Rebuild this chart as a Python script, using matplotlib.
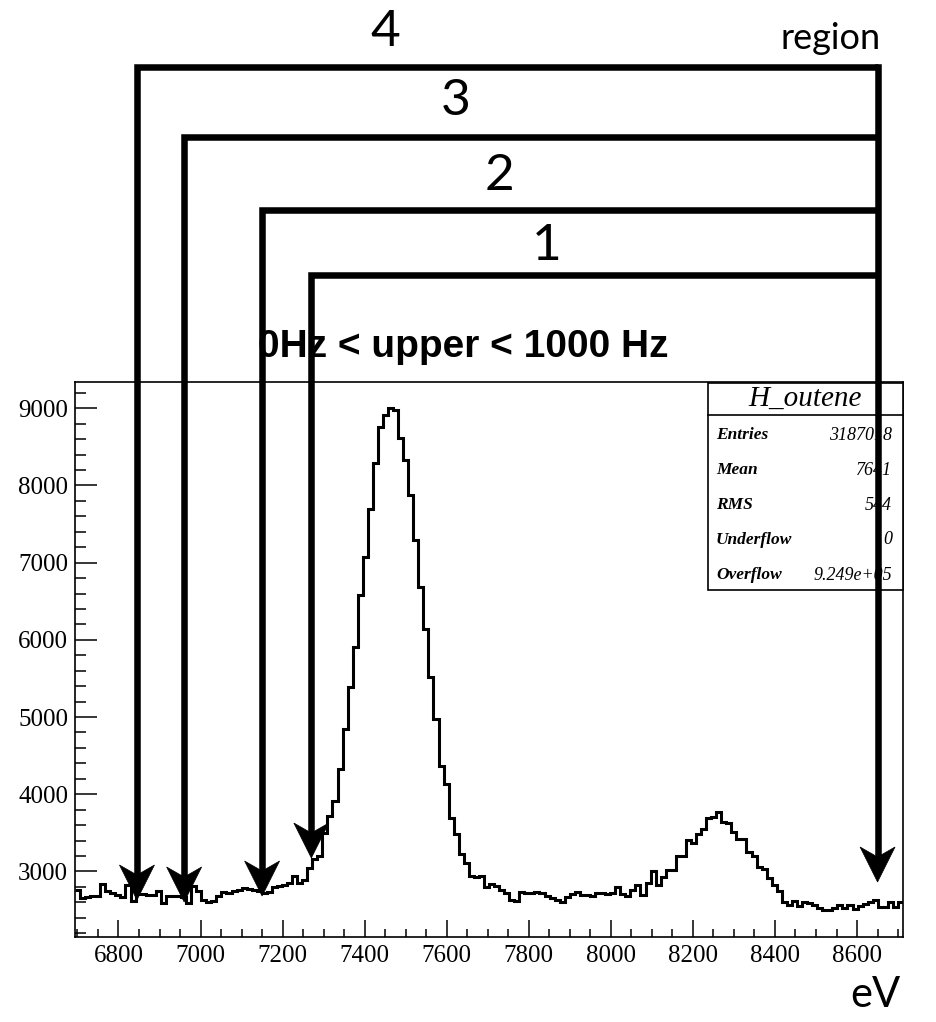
import numpy as np
import matplotlib
matplotlib.use("Agg")
import matplotlib.pyplot as plt
from matplotlib.lines import Line2D
from matplotlib.patches import Polygon, Rectangle
from matplotlib.ticker import MultipleLocator
from matplotlib.transforms import Bbox, TransformedBbox

W, H = 937, 1022

# histogram H_outene: energy range and bin contents
E_MIN, E_MAX = 6694, 8712
counts = [
    2764, 2656, 2665, 2678, 2678, 2838, 2743, 2721, 2700, 2665,
    2820, 2613, 2708, 2708, 2700, 2700, 2751, 2591, 2678, 2678,
    2678, 2665, 2591, 2808, 2743, 2634, 2604, 2621, 2678, 2734,
    2721, 2751, 2764, 2786, 2777, 2764, 2743, 2721, 2734, 2795,
    2808, 2829, 2847, 2938, 2851, 2894, 3045, 3158, 3194, 3500,
    3717, 3912, 4327, 4847, 5384, 5903, 6575, 7073, 7701, 8286,
    8761, 8913, 9000, 8980, 8610, 8328, 7874, 7289, 6683, 6142,
    5513, 4973, 4366, 4129, 3695, 3479, 3219, 3110, 2937, 2930,
    2938, 2800, 2838, 2808, 2764, 2721, 2634, 2613, 2734, 2721,
    2725, 2734, 2720, 2678, 2656, 2634, 2600, 2665, 2708, 2734,
    2700, 2690, 2680, 2721, 2715, 2705, 2721, 2795, 2710, 2678,
    2764, 2820, 2699, 2851, 3011, 2829, 2924, 3024, 3024, 3197,
    3200, 3405, 3370, 3479, 3543, 3686, 3704, 3769, 3643, 3630,
    3513, 3414, 3414, 3249, 3197, 3059, 3033, 2916, 2830, 2743,
    2600, 2560, 2620, 2548, 2600, 2591, 2560, 2530, 2504, 2504,
    2520, 2561, 2526, 2561, 2517, 2548, 2578, 2604, 2626, 2535,
    2535, 2604, 2540, 2600,
]

# energy regions: lower edges (eV) and common upper edge
region_names = ["1", "2", "3", "4"]
region_lo = [7270, 7150, 6960, 6845]
region_hi = 8650

stat_labels = ["Entries", "Mean", "RMS", "Underflow", "Overflow"]
stat_values = ["3187018", "7641", "544", "0", "9.249e+05"]

x_ticks = [6800, 7000, 7200, 7400, 7600, 7800, 8000, 8200, 8400, 8600]
y_ticks = [3000, 4000, 5000, 6000, 7000, 8000, 9000]


def fx(px):
    return px / W


def fy(py):
    return 1 - py / H


fig = plt.figure(figsize=(W / 100, H / 100), dpi=100)
ax = fig.add_axes([fx(75), fy(937), 828 / W, 555 / H])

edges = np.linspace(E_MIN, E_MAX, len(counts) + 1)
ax.stairs(counts, edges, baseline=None, color="black", lw=2.2)

ax.set_xlim(E_MIN, E_MAX)
ax.set_ylim(2150, 9340)
ax.set_xticks(x_ticks)
ax.set_yticks(y_ticks)
ax.xaxis.set_minor_locator(MultipleLocator(50))
ax.yaxis.set_minor_locator(MultipleLocator(200))
ax.tick_params(which="both", direction="in", top=False, right=False, width=1.1)
ax.tick_params(which="major", axis="x", length=12, pad=6)
ax.tick_params(which="minor", axis="x", length=6)
ax.tick_params(which="major", axis="y", length=16, pad=5)
ax.tick_params(which="minor", axis="y", length=8)
for lab in ax.get_xticklabels() + ax.get_yticklabels():
    lab.set_fontfamily("Liberation Serif")
    lab.set_fontsize(18)
for sp in ax.spines.values():
    sp.set_linewidth(1.2)

fig.text(fx(900), fy(995), "eV", ha="right", va="center",
         family="Lato", fontsize=30)

# title, clipped on the left like in the original canvas
t = fig.text(fx(463), fy(347), "0Hz < upper < 1000 Hz", ha="center", va="center",
             family="Liberation Sans", weight="bold", fontsize=28, zorder=1.5)
t.set_clip_box(TransformedBbox(Bbox([[fx(259), 0], [1, 1]]), fig.transFigure))
t.set_clip_on(True)

# stats box
fig.add_artist(Rectangle((fx(708), fy(590)), fx(903) - fx(708), fy(383) - fy(590),
                         transform=fig.transFigure, facecolor="white",
                         edgecolor="black", lw=1.2, zorder=2.5))
fig.add_artist(Line2D([fx(708), fx(903)], [fy(415), fy(415)], transform=fig.transFigure,
                      color="black", lw=1.2, zorder=2.6))
fig.text(fx(805), fy(399), "H_outene", ha="center", va="center", family="Liberation Serif",
         style="italic", fontsize=21, zorder=3)
for k, (lab, val) in enumerate(zip(stat_labels, stat_values)):
    yy = fy(435 + k * 35)
    fig.text(fx(716), yy, lab, ha="left", va="center", family="Liberation Serif",
             style="italic", weight="bold", fontsize=12.5, zorder=3)
    fig.text(fx(892), yy, val, ha="right", va="center", family="Liberation Serif",
             style="italic", fontsize=13, zorder=3)

# region brackets with arrows
frame_y = [275, 210, 137, 67]
tip_y = [858, 896, 902, 900]
label_pos = [(547, 246), (500, 176), (456, 101), (385, 32)]
right_tip = 882
LW = 4.7


def dx(e):
    return ax.transData.transform((e, 0))[0]


def head(X, tip):
    pts = [(X, tip), (X - 17.5, tip - 35), (X, tip - 25), (X + 17.5, tip - 35)]
    fig.add_artist(Polygon([(fx(a), fy(b)) for a, b in pts], closed=True,
                           transform=fig.transFigure, facecolor="black",
                           edgecolor="black", lw=0.5, zorder=5))


XR = dx(region_hi)
for name, lo, yf, tip, (lx, ly) in zip(region_names, region_lo, frame_y, tip_y, label_pos):
    X = dx(lo)
    fig.add_artist(Line2D([fx(X), fx(X), fx(XR)], [fy(tip - 22), fy(yf), fy(yf)],
                          transform=fig.transFigure, color="black", lw=LW,
                          solid_joinstyle="miter", solid_capstyle="butt", zorder=5))
    head(X, tip)
    fig.text(fx(lx), fy(ly), name, ha="center", va="center", family="Lato",
             fontsize=37, zorder=5)

fig.add_artist(Line2D([fx(XR), fx(XR)], [fy(frame_y[-1]), fy(right_tip - 22)],
                      transform=fig.transFigure, color="black", lw=LW,
                      solid_capstyle="projecting", zorder=5))
head(XR, right_tip)
fig.text(fx(881), fy(38), "region", ha="right", va="center", family="Lato",
         fontsize=26, zorder=5)

fig.savefig("out.png", dpi=100, facecolor="white")
